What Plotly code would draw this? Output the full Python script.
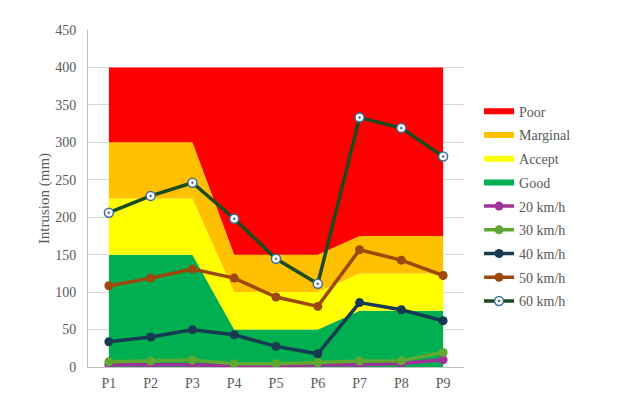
import plotly.graph_objects as go

categories = ["P1", "P2", "P3", "P4", "P5", "P6", "P7", "P8", "P9"]

# zone boundaries (cumulative tops)
good_top = [150, 150, 150, 50, 50, 50, 75, 75, 75]
accept_top = [225, 225, 225, 100, 100, 100, 125, 125, 125]
marginal_top = [300, 300, 300, 150, 150, 150, 175, 175, 175]
poor_top = [400, 400, 400, 400, 400, 400, 400, 400, 400]

v20 = [3, 3, 3, 1.7, 1.7, 3, 3, 4.8, 9.7]
v30 = [7, 8, 9.3, 4.4, 4.4, 6, 8, 8.4, 19.5]
v40 = [33.7, 40, 49.8, 43, 27.5, 17.7, 86, 76.4, 61.8]
v50 = [108.5, 118.7, 130.7, 118.7, 93.4, 80.9, 156.5, 142.7, 122.2]
v60 = [206, 228.5, 246, 198, 144.5, 111, 333, 319, 281]

fig = go.Figure()

zones = [
    ("Good", [g for g in good_top], "#00B050", 4),
    ("Accept", [a - g for a, g in zip(accept_top, good_top)], "#FFFF00", 3),
    ("Marginal", [m - a for m, a in zip(marginal_top, accept_top)], "#FFC000", 2),
    ("Poor", [p - m for p, m in zip(poor_top, marginal_top)], "#FF0000", 1),
]
for name, vals, col, rank in zones:
    fig.add_trace(go.Scatter(
        x=categories, y=vals, name=name, stackgroup="zones", mode="none",
        fillcolor=col, legendrank=rank, legendgroup=name, hoverinfo="skip",
    ))

lines = [
    ("20 km/h", v20, "#A0309A", 5),
    ("30 km/h", v30, "#5FA832", 6),
    ("40 km/h", v40, "#173A52", 7),
    ("50 km/h", v50, "#9E480E", 8),
]
for name, vals, col, rank in lines:
    fig.add_trace(go.Scatter(
        x=categories, y=vals, name=name, mode="lines+markers",
        line=dict(color=col, width=3.5), marker=dict(size=9, color=col),
        legendrank=rank, legendgroup=name,
    ))

fig.add_trace(go.Scatter(
    x=categories, y=v60, name="60 km/h", mode="lines+markers",
    line=dict(color="#1B4A1E", width=3.5),
    marker=dict(size=9, symbol="circle-dot", color="white",
                line=dict(color="#3A6E9A", width=1.5)),
    legendrank=9, legendgroup="60 km/h",
))

fig.update_layout(
    width=616, height=390,
    margin=dict(l=80, r=160, t=22, b=31),
    paper_bgcolor="white", plot_bgcolor="white",
    font=dict(family="Liberation Serif, Times New Roman, serif", size=14, color="#595959"),
    showlegend=True,
    legend=dict(
        x=1.04, y=0.805, xanchor="left", yanchor="top",
        traceorder="grouped", tracegroupgap=2.5,
        font=dict(size=14, color="#595959"),
        bgcolor="rgba(0,0,0,0)",
    ),
    xaxis=dict(
        type="category", range=[-0.5, 8.5], automargin=False,
        showgrid=False, showline=True, linecolor="#BFBFBF", linewidth=1,
        ticks="", ticklabelstandoff=3, tickfont=dict(size=14, color="#595959"),
    ),
    yaxis=dict(
        range=[0, 450], dtick=50, tick0=0, automargin=False,
        showgrid=True, gridcolor="#D9D9D9", gridwidth=1,
        showline=True, linecolor="#BFBFBF", linewidth=1,
        zeroline=False, ticks="", ticklabelstandoff=8,
        tickfont=dict(size=14, color="#595959"),
        title=dict(text="Intrusion (mm)", font=dict(size=15, color="#595959"), standoff=1),
    ),
)

fig.write_html("out.html")
